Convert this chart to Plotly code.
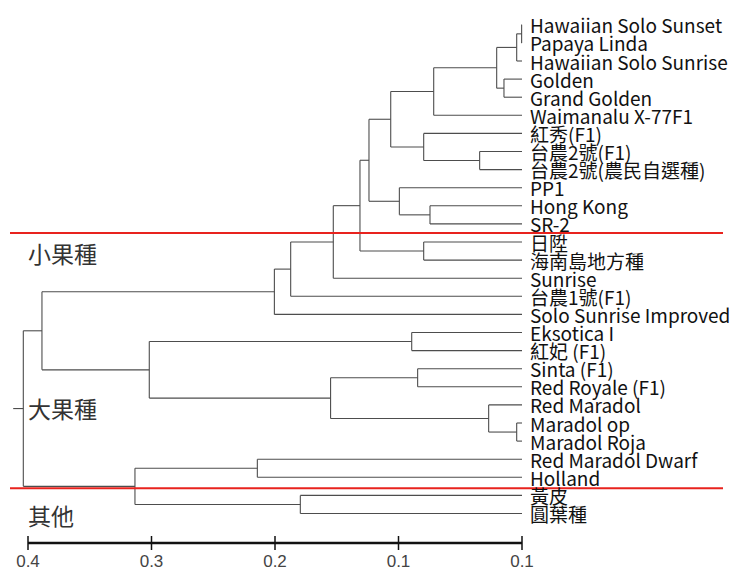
import plotly.graph_objects as go

# ---- data ----
leaves = ["Hawaiian Solo Sunset", "Papaya Linda", "Hawaiian Solo Sunrise", "Golden", "Grand Golden",
          "Waimanalu X-77F1", "紅秀(F1)", "台農2號(F1)", "台農2號(農民自選種)", "PP1", "Hong Kong", "SR-2",
          "日陞", "海南島地方種", "Sunrise", "台農1號(F1)", "Solo Sunrise Improved", "Eksotica I",
          "紅妃 (F1)", "Sinta (F1)", "Red Royale (F1)", "Red Maradol", "Maradol op", "Maradol Roja",
          "Red Maradol Dwarf", "Holland", "黃皮", "圓葉種"]
# merges: node ids 0..27 are leaves, merge k creates node 28+k
merge_left = [0, 28, 3, 29, 31, 7, 6, 32, 10, 9, 35, 12, 38, 40, 41, 42, 17, 19, 22, 21, 45, 44, 43, 24, 26, 51, 50]
merge_right = [1, 2, 4, 30, 5, 8, 33, 34, 11, 36, 37, 13, 39, 14, 15, 16, 18, 20, 23, 46, 47, 48, 49, 25, 27, 52, 53]
merge_height = [0.0003, 0.0043, 0.0146, 0.0205, 0.0715, 0.0343, 0.0796, 0.1063, 0.0745, 0.0993, 0.1239,
                0.0796, 0.1312, 0.1528, 0.1873, 0.2005, 0.0893, 0.0845, 0.0043, 0.0270, 0.1550, 0.3018,
                0.3887, 0.2143, 0.1795, 0.3134, 0.4038]
root_stem = 0.412
tick_vals = [0.4, 0.3, 0.2, 0.1, 0.0]
tick_text = ["0.4", "0.3", "0.2", "0.1", "0.1"]
group_labels = ["小果種", "大果種", "其他"]
group_label_rows = [12.6, 21.15, 27.1]
divider_rows = [11.5, 25.6]

# ---- geometry (page body has an 8px margin; figure sized to fit the window) ----
OFF = 8
W, H = 743 - OFF, 568 - OFF
PX0 = 522.0 - OFF   # x pixel (figure coords) of height 0
PX_PER = 1235.0     # pixels per unit height
Y0, DY = 24.8 - OFF, 18.1
x_left = PX0 / PX_PER
x_right = x_left - W / PX_PER
y_top = -Y0 / DY
y_bot = (H - Y0) / DY

n = len(leaves)
pos_y = {i: float(i) for i in range(n)}
pos_h = {i: 0.0 for i in range(n)}
xs, ys = [], []
for k, (a, b, h) in enumerate(zip(merge_left, merge_right, merge_height)):
    node = n + k
    for c in (a, b):
        xs += [pos_h[c], h, None]
        ys += [pos_y[c], pos_y[c], None]
    xs += [h, h, None]
    ys += [pos_y[a], pos_y[b], None]
    pos_h[node] = h
    pos_y[node] = (pos_y[a] + pos_y[b]) / 2
root = n + len(merge_height) - 1
xs += [pos_h[root], root_stem, None]
ys += [pos_y[root], pos_y[root], None]

fig = go.Figure()
fig.add_trace(go.Scatter(x=xs, y=ys, mode="lines", line=dict(color="#4d4d4d", width=1.1),
                         hoverinfo="skip", showlegend=False))

# axis line with crossing ticks
axis_row = (543 - OFF - Y0) / DY
fig.add_trace(go.Scatter(x=tick_vals, y=[axis_row] * len(tick_vals), mode="lines+markers",
                         line=dict(color="#111111", width=2.5),
                         marker=dict(symbol="line-ns", size=10, line=dict(color="#111111", width=1.5)),
                         hoverinfo="skip", showlegend=False))

# leaf labels
for i, name in enumerate(leaves):
    fig.add_annotation(x=0, y=i, xref="x", yref="y", text=name, showarrow=False,
                       xanchor="left", yanchor="middle", xshift=6,
                       font=dict(family="Noto Sans CJK TC", size=19, color="#111111"))

# group labels
for lab, r in zip(group_labels, group_label_rows):
    fig.add_annotation(x=(26 - OFF) / W, xref="paper", y=r, yref="y", text=lab, showarrow=False,
                       xanchor="left", yanchor="middle",
                       font=dict(family="Noto Sans CJK TC", size=23, color="#333333"))

# red divider lines
for r in divider_rows:
    fig.add_shape(type="line", xref="paper", yref="y", x0=(10 - OFF) / W, x1=(723 - OFF) / W, y0=r, y1=r,
                  line=dict(color="#e8231e", width=2))

fig.update_layout(
    width=W, height=H, margin=dict(l=0, r=0, t=0, b=0),
    paper_bgcolor="white", plot_bgcolor="white",
    xaxis=dict(range=[x_left, x_right], showgrid=False, zeroline=False, showline=False,
               tickvals=tick_vals, ticktext=tick_text, ticks="",
               tickfont=dict(family="Liberation Sans Narrow, Liberation Sans", size=17, color="#444444"),
               anchor="free", position=(H - (549 - OFF)) / H, fixedrange=True, automargin=False),
    yaxis=dict(range=[y_bot, y_top], visible=False, fixedrange=True),
    showlegend=False,
)
fig.write_html("out.html")
